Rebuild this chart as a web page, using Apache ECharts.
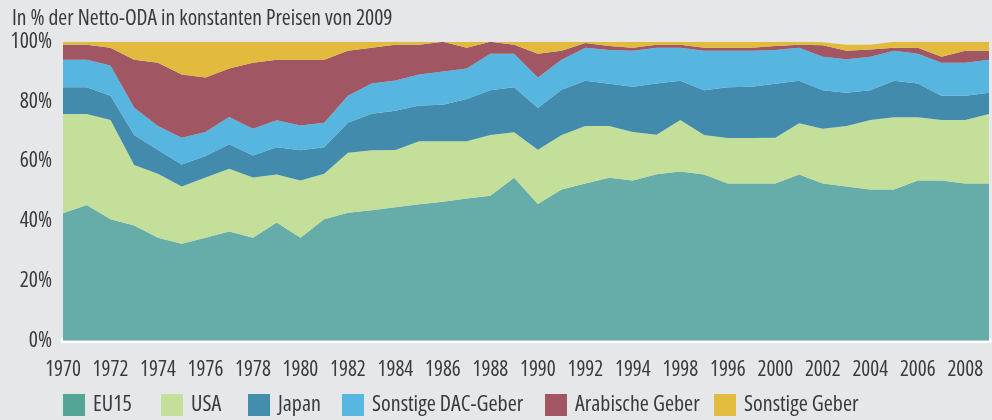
<!DOCTYPE html>
<html>
<head>
<meta charset="utf-8">
<script src="https://cdn.jsdelivr.net/npm/echarts@6/dist/echarts.min.js"></script>
<style>
html,body{margin:0;padding:0;background:#e6e7e9;}
#chart{width:992px;height:420px;}
</style>
</head>
<body>
<div id="chart"></div>
<script>
const years = [];
for (let y = 1970; y <= 2009; y++) years.push(String(y));

const tickLabels = ['1970','1972','1974','1976','1978','1980','1982','1984','1986','1988','1990','1992','1994','1998','1996','2000','2002','2004','2006','2008'];

const seriesNames = ['EU15','USA','Japan','Sonstige DAC-Geber','Arabische Geber','Sonstige Geber'];

const eu15 = [42.6,45.4,40.6,38.5,34.4,32.4,34.4,36.5,34.4,39.5,34.4,40.6,42.8,43.6,44.6,45.6,46.5,47.6,48.5,54.5,45.7,50.6,52.6,54.5,53.6,55.7,56.6,55.6,52.6,52.6,52.6,55.6,52.6,51.6,50.6,50.6,53.6,53.6,52.6,52.6];
const usa = [33.2,30.4,33.2,20.3,21.4,19.2,20.2,21.0,20.2,16.1,19.2,15.2,20.1,20.1,19.2,21.1,20.2,19.1,20.3,15.2,18.2,18.2,19.2,17.3,16.2,13.2,17.2,13.2,15.2,15.2,15.3,17.1,18.3,20.2,23.2,24.1,21.1,20.2,21.2,23.2];
const japan = [9.0,9.0,8.1,10.0,8.0,7.3,7.2,8.2,7.3,9.1,10.1,8.9,10.0,12.2,13.1,12.0,12.2,14.1,15.0,15.1,13.9,15.1,15.1,14.1,15.1,17.1,13.1,15.0,17.0,17.1,18.0,14.2,12.9,11.1,10.0,12.2,11.3,8.1,8.1,7.1];
const dac = [9.2,9.2,10.1,9.1,8.0,9.0,8.0,9.1,9.0,9.0,8.3,8.2,9.0,10.1,10.1,10.3,11.1,10.2,12.2,11.2,10.2,10.1,11.1,11.3,12.1,12.0,11.1,13.2,12.2,12.1,11.3,11.1,11.2,11.2,11.2,10.1,10.0,11.1,11.1,11.1];
const arab = [5.0,5.0,6.0,16.1,21.2,21.1,18.2,16.2,22.1,20.3,22.0,21.1,15.1,12.0,12.0,10.0,10.0,7.0,4.0,3.0,8.0,3.0,1.6,1.4,1.0,1.0,1.0,1.0,1.0,1.0,1.4,1.0,3.8,2.9,2.4,1.0,2.0,2.0,4.0,3.0];
const other = [1.0,1.0,2.0,6.0,7.0,11.0,12.0,9.0,7.0,6.0,6.0,6.0,3.0,2.0,1.0,1.0,0.0,2.0,0.0,1.0,4.0,3.0,0.4,1.4,2.0,1.0,1.0,2.0,2.0,2.0,1.4,1.0,1.0,2.0,1.6,2.0,2.0,5.0,3.0,3.0];

const areaColors = ['#66ada9','#c3df99','#438bac','#56b6e0','#a15664','#e2ba3d'];
const legendColors = ['#55a596','#c4df9a','#438dae','#57b7e1','#a25563','#e3bb3f'];
const legendLeft = [63,161,248,342,545,714];
const values = [eu15, usa, japan, dac, arab, other];

const FONT = "'Open Sans','Liberation Sans',sans-serif";
const STRETCH = 'condensed';
const TXT = '#3a3a3a';

const chart = echarts.init(document.getElementById('chart'), null, {renderer:'canvas'});
chart.setOption({
  backgroundColor: '#e6e7e9',
  animation: false,
  textStyle: {fontFamily: FONT},
  title: {
    text: 'In % der Netto-ODA in konstanten Preisen von 2009',
    left: 12, top: 8, padding: 0,
    textStyle: {fontFamily: FONT, fontSize: 21.5, fontWeight: STRETCH, color: TXT}
  },
  legend: seriesNames.map((n, k) => ({
    left: legendLeft[k], top: 394, padding: 0,
    itemWidth: 22, itemHeight: 22,
    icon: 'rect',
    data: [n],
    selectedMode: false,
    textStyle: {fontFamily: FONT, fontSize: 22, fontWeight: STRETCH, color: TXT, padding: [0,0,0,3]}
  })),
  grid: {left: 63, right: 3, top: 41.7, bottom: 79.3, containLabel: false},
  xAxis: {
    type: 'category',
    data: years,
    boundaryGap: false,
    offset: 3,
    axisLine: {show: true, lineStyle: {color: '#ffffff', width: 5}},
    axisTick: {show: false},
    axisLabel: {
      interval: 1,
      margin: 16,
      fontFamily: FONT, fontSize: 21, fontWeight: STRETCH, color: TXT,
      formatter: function (v, i) { return tickLabels[i / 2] || ''; }
    },
    splitLine: {show: false}
  },
  yAxis: {
    type: 'value',
    min: 0, max: 100, interval: 20,
    axisLine: {show: false},
    axisTick: {show: false},
    splitLine: {show: false},
    axisLabel: {margin: 11, fontFamily: FONT, fontSize: 21.5, fontWeight: STRETCH, color: TXT, formatter: '{value}%'}
  },
  series: seriesNames.map((n, k) => ({
    name: n,
    type: 'line',
    stack: 'total',
    data: values[k],
    showSymbol: false,
    symbol: 'none',
    lineStyle: {width: 0},
    itemStyle: {color: legendColors[k]},
    areaStyle: {color: areaColors[k], opacity: 1}
  }))
});
</script>
</body>
</html>
